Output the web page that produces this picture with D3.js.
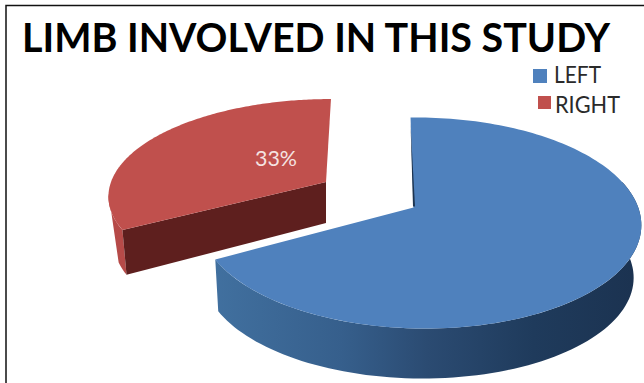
<!DOCTYPE html>
<html>
<head>
<meta charset="utf-8">
<script src="https://cdn.jsdelivr.net/npm/d3@7"></script>
<style>
html, body { margin: 0; padding: 0; background: #fff; }
svg { display: block; }
</style>
</head>
<body>
<svg id="chart" width="644" height="383"></svg>
<script>
// Chart content
const chartTitle = "LIMB INVOLVED IN THIS STUDY";
const categories = ["LEFT", "RIGHT"];
const shares = [67, 33];
const sliceColors = ["#4f81bd", "#c0504d"];
const valueLabels = [null, "33%"];

const svg = d3.select("#chart");
const defs = svg.append("defs");

// Tilted-disc projection: each slice is an exploded wedge seen in perspective.
function projector(p) {
  return (angle, radius = 1, drop = 0) => {
    const u = radius * Math.sin(angle);
    const v = -radius * Math.cos(angle);
    const w = 1 - p.k * v - p.j * u;
    const sx = drop ? p.lowerX : 1;
    const sy = drop ? p.lowerY : 1;
    return [
      p.ax + (sx * (p.rx * u + p.skew * v)) / w + (drop ? p.dropX : 0),
      p.ay + (sy * p.ry * v) / w + drop
    ];
  };
}

const views = [
  { ax: 413.5, ay: 207.5, rx: 218, ry: 103.2, k: 0.147, j: 0.03, skew: 3.4,
    depth: 53, lowerX: 0.975, lowerY: 0.975, dropX: -2 },
  { ax: 326, ay: 182, rx: 215, ry: 93.5, k: 0.127, j: 0, skew: -5.6,
    depth: 41, lowerX: 0.98, lowerY: 1.08, dropX: 0 }
];

const pieLayout = d3.pie().sort(null).value(d => d);
const slices = pieLayout(shares);

const lineGen = d3.line();
const arcAngles = (a, b, n = 90) => d3.range(n + 1).map(i => a + ((b - a) * i) / n);

// Horizontal shading across the blue rim, darkening to the right.
const rimGrad = defs.append("linearGradient")
  .attr("id", "rimBlue")
  .attr("gradientUnits", "userSpaceOnUse")
  .attr("x1", 214).attr("x2", 640).attr("y1", 0).attr("y2", 0);
[[0, "#41709f"], [0.3, "#365f8c"], [0.5, "#2b4b72"], [0.75, "#1f3b5c"], [1, "#1b3250"]]
  .forEach(([o, c]) => rimGrad.append("stop").attr("offset", o).attr("stop-color", c));

const pieLayer = svg.append("g");

// Wedge for the smaller share sits behind the larger one.
[1, 0].forEach(i => {
  const sl = slices[i];
  const view = views[i];
  const at = projector(view);
  const g = pieLayer.append("g").attr("class", "slice-" + categories[i]);

  if (i === 0) {
    // Outer rim of the large wedge, visible along the front.
    const a = Math.PI * 0.42;
    const top = arcAngles(a, sl.endAngle).map(t => at(t));
    const low = arcAngles(sl.endAngle, a).map(t => at(t, 1, view.depth));
    g.append("path").attr("d", lineGen(top.concat(low)) + "Z").attr("fill", "url(#rimBlue)");
  } else {
    // Short visible stretch of rim, then the cut wall facing the viewer.
    const corner = at(sl.startAngle);
    const apex = at(0, 0);
    const top = arcAngles(sl.startAngle, sl.startAngle + 0.38, 20).map(t => at(t));
    const low = arcAngles(sl.startAngle + 0.12, sl.startAngle, 10).map(t => at(t, 1, view.depth));
    g.append("path").attr("d", lineGen(top.concat(low)) + "Z").attr("fill", "#b64a48");
    g.append("path")
      .attr("d", lineGen([corner, apex, at(0, 0, view.depth), at(sl.startAngle, 1, view.depth)]) + "Z")
      .attr("fill", "#5e1f1e");
  }

  // Top face
  const rimPts = arcAngles(sl.startAngle, sl.endAngle, 160).map(t => at(t));
  g.append("path")
    .attr("d", lineGen([at(0, 0)].concat(rimPts)) + "Z")
    .attr("fill", sliceColors[i]);

  if (i === 0) {
    // Sliver of the inner wall along the upper cut edge.
    const apex = at(0, 0);
    const tip = at(0);
    g.append("path")
      .attr("d", lineGen([[tip[0], tip[1] + 6], [apex[0] + 1.5, apex[1] - 1], [apex[0] - 0.5, apex[1] - 1]]) + "Z")
      .attr("fill", "#1d3450");
  }

  if (valueLabels[i]) {
    g.append("text")
      .attr("x", 255).attr("y", 166)
      .attr("font-family", "Lato, sans-serif")
      .attr("font-size", 22)
      .attr("textLength", 42)
      .attr("lengthAdjust", "spacingAndGlyphs")
      .attr("fill", "#f5e3e2")
      .text(valueLabels[i]);
  }
});

// Title
svg.append("text")
  .attr("x", 22).attr("y", 52)
  .attr("font-family", "Lato, sans-serif")
  .attr("font-weight", 700)
  .attr("font-size", 40)
  .attr("textLength", 588)
  .attr("lengthAdjust", "spacingAndGlyphs")
  .attr("fill", "#000")
  .text(chartTitle);

// Legend
const legendSpots = [
  { sx: 533, sy: 69, sw: 14, sh: 14, tx: 554, ty: 83, tw: 47 },
  { sx: 538, sy: 96, sw: 13, sh: 13, tx: 555, ty: 113, tw: 65 }
];
const legend = svg.append("g").selectAll("g").data(categories).join("g");
legend.append("rect")
  .attr("x", (d, i) => legendSpots[i].sx)
  .attr("y", (d, i) => legendSpots[i].sy)
  .attr("width", (d, i) => legendSpots[i].sw)
  .attr("height", (d, i) => legendSpots[i].sh)
  .attr("fill", (d, i) => sliceColors[i]);
legend.append("text")
  .attr("x", (d, i) => legendSpots[i].tx)
  .attr("y", (d, i) => legendSpots[i].ty)
  .attr("font-family", "Lato, sans-serif")
  .attr("font-size", 23)
  .attr("textLength", (d, i) => legendSpots[i].tw)
  .attr("lengthAdjust", "spacingAndGlyphs")
  .attr("fill", "#2a2a2a")
  .text(d => d);

// Frame along the top and left edges
svg.append("path")
  .attr("d", lineGen([[6, 383], [6, 5.5], [644, 5.5]]))
  .attr("fill", "none")
  .attr("stroke", "#111")
  .attr("stroke-width", 1.5);
</script>
</body>
</html>
